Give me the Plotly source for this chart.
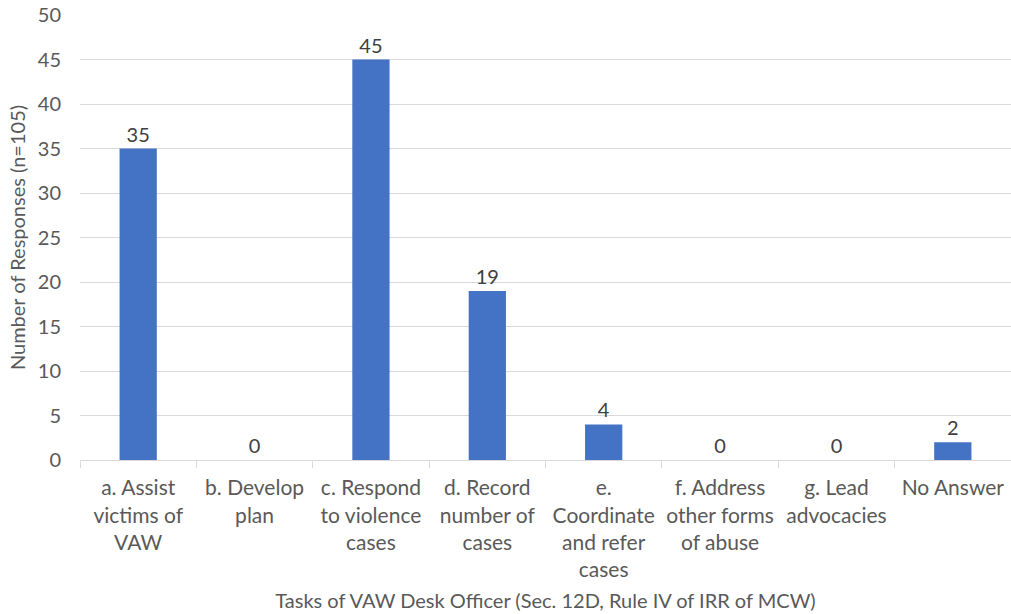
import plotly.graph_objects as go

categories = ["a. Assist<br>victims of<br>VAW", "b. Develop<br>plan", "c. Respond<br>to violence<br>cases",
              "d. Record<br>number of<br>cases", "e.<br>Coordinate<br>and refer<br>cases",
              "f. Address<br>other forms<br>of abuse", "g. Lead<br>advocacies", "No Answer"]
values = [35, 0, 45, 19, 4, 0, 0, 2]
y_ticks = [0, 5, 10, 15, 20, 25, 30, 35, 40, 45, 50]

FONT = "Lato"
FS = 20
COL = "#595959"
fig = go.Figure(go.Bar(
    x=categories, y=values, width=0.32,
    marker=dict(color="#4472C4", line=dict(width=0)),
    text=[str(v) for v in values], textposition="outside", textangle=0,
    textfont=dict(family=FONT, size=FS, color="#404040"),
    cliponaxis=False,
))
fig.update_layout(
    width=1011, height=614,
    margin=dict(l=80, r=0, t=15, b=154),
    paper_bgcolor="white", plot_bgcolor="white",
    showlegend=False,
    font=dict(family=FONT, size=FS, color=COL),
)
fig.update_xaxes(
    tickson="boundaries", ticks="outside", ticklen=7, tickcolor="#D9D9D9",
    showline=True, linecolor="#D9D9D9", linewidth=1,
    tickangle=0, automargin=False,
    ticklabelstandoff=9,
    tickfont=dict(family=FONT, size=21, color=COL),
    title=dict(text="Tasks of VAW Desk Officer (Sec. 12D, Rule IV of IRR of MCW)",
               font=dict(family=FONT, size=FS, color=COL), standoff=13),
)
fig.update_yaxes(
    range=[0, 50], tickvals=y_ticks, showgrid=True, gridcolor="#D9D9D9",
    zeroline=False, showline=False, ticklabelstandoff=18, automargin=False,
    tickfont=dict(family=FONT, size=FS, color=COL),
    title=dict(text="Number of Responses (n=105)", font=dict(family=FONT, size=FS, color=COL), standoff=6),
)
fig.write_html("out.html")
